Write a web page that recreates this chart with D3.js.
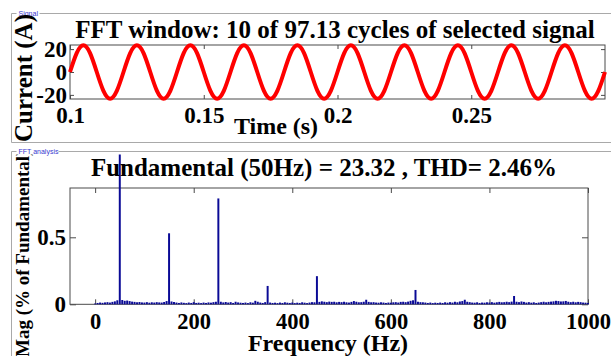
<!DOCTYPE html>
<html>
<head>
<meta charset="utf-8">
<script src="https://cdn.jsdelivr.net/npm/d3@7/dist/d3.min.js"></script>
<style>
  html, body { margin: 0; padding: 0; background: #fff; }
  svg { display: block; }
</style>
</head>
<body>
<svg id="chart" width="611" height="356"></svg>
<script>
// ---------------- DATA ----------------
const signalTitle = "FFT window: 10 of 97.13 cycles of selected signal";
const fftTitle = "Fundamental (50Hz) = 23.32 , THD= 2.46%";

// Time samples (s) every 1/8 cycle, and current (A)
const signalTime = [
  0.1000,0.1025,0.1050,0.1075,0.1100,0.1125,0.1150,0.1175,
  0.1200,0.1225,0.1250,0.1275,0.1300,0.1325,0.1350,0.1375,
  0.1400,0.1425,0.1450,0.1475,0.1500,0.1525,0.1550,0.1575,
  0.1600,0.1625,0.1650,0.1675,0.1700,0.1725,0.1750,0.1775,
  0.1800,0.1825,0.1850,0.1875,0.1900,0.1925,0.1950,0.1975,
  0.2000,0.2025,0.2050,0.2075,0.2100,0.2125,0.2150,0.2175,
  0.2200,0.2225,0.2250,0.2275,0.2300,0.2325,0.2350,0.2375,
  0.2400,0.2425,0.2450,0.2475,0.2500,0.2525,0.2550,0.2575,
  0.2600,0.2625,0.2650,0.2675,0.2700,0.2725,0.2750,0.2775,
  0.2800,0.2825,0.2850,0.2875,0.2900,0.2925,0.2950,0.2975,
  0.3000
];
const signalCurrent = [
  0,16.5,23.3,16.5,0,-16.5,-23.3,-16.5,
  0,16.5,23.3,16.5,0,-16.5,-23.3,-16.5,
  0,16.5,23.3,16.5,0,-16.5,-23.3,-16.5,
  0,16.5,23.3,16.5,0,-16.5,-23.3,-16.5,
  0,16.5,23.3,16.5,0,-16.5,-23.3,-16.5,
  0,16.5,23.3,16.5,0,-16.5,-23.3,-16.5,
  0,16.5,23.3,16.5,0,-16.5,-23.3,-16.5,
  0,16.5,23.3,16.5,0,-16.5,-23.3,-16.5,
  0,16.5,23.3,16.5,0,-16.5,-23.3,-16.5,
  0,16.5,23.3,16.5,0,-16.5,-23.3,-16.5,
  0
];

// Spectrum: one bin every 5 Hz from 0 to 1000 Hz (magnitude, % of fundamental scale)
const fftStepHz = 5;
const fftMag = [
  0.006,0.010,0.013,0.011,0.014,0.016,0.013,0.018,0.022,0.030,100, 0.032,0.026,0.028,0.024,0.020,0.018,0.015,0.017,0.014,
  0.013,0.016,0.012,0.015,0.013,0.016,0.014,0.013,0.017,0.024,0.53, 0.021,0.017,0.013,0.010,0.014,0.011,0.009,0.013,0.010,
  0.016,0.010,0.012,0.009,0.013,0.010,0.014,0.012,0.016,0.019,0.79, 0.019,0.014,0.017,0.013,0.016,0.010,0.019,0.014,0.012,
  0.010,0.013,0.009,0.015,0.012,0.026,0.019,0.013,0.010,0.016,0.137,0.013,0.010,0.012,0.009,0.013,0.010,0.015,0.012,0.010,
  0.013,0.009,0.012,0.010,0.015,0.012,0.009,0.013,0.016,0.015,0.21, 0.018,0.022,0.019,0.016,0.020,0.018,0.019,0.015,0.018,
  0.016,0.019,0.015,0.013,0.018,0.024,0.019,0.015,0.016,0.019,0.034,0.018,0.015,0.016,0.013,0.012,0.015,0.013,0.010,0.013,
  0.012,0.015,0.016,0.013,0.018,0.019,0.016,0.020,0.026,0.030,0.107,0.019,0.016,0.015,0.013,0.010,0.013,0.009,0.012,0.010,
  0.013,0.010,0.015,0.012,0.016,0.013,0.019,0.015,0.021,0.024,0.034,0.019,0.016,0.013,0.012,0.015,0.010,0.013,0.012,0.015,
  0.013,0.016,0.012,0.015,0.018,0.015,0.016,0.019,0.016,0.020,0.062,0.019,0.016,0.021,0.018,0.013,0.016,0.012,0.015,0.010,
  0.013,0.016,0.019,0.015,0.018,0.020,0.022,0.026,0.024,0.021,0.022,0.025,0.019,0.016,0.019,0.015,0.018,0.016,0.013,0.012,
  0.010
];

const timeTicks = [0.1, 0.15, 0.2, 0.25];
const currentTicks = [-20, 0, 20];
const freqTicks = [0, 200, 400, 600, 800, 1000];
const magTicks = [0, 0.5];

// ---------------- DRAW ----------------
const svg = d3.select("#chart");
const serif = "'Liberation Serif','Times New Roman',serif";
const boxColor = "#4a4a4a";
const frameColor = "#a9a9a9";
const barColor = "#0a0a96";

svg.append("rect").attr("width", 611).attr("height", 356).attr("fill", "#fff");

// panel frames
function panelFrame(top, bottom, label, labelW) {
  const p = d3.path();
  p.moveTo(611, top); p.lineTo(11.5, top); p.lineTo(11.5, bottom);
  if (bottom < 356) p.lineTo(611, bottom);
  svg.append("path").attr("d", p.toString()).attr("fill", "none")
    .attr("stroke", frameColor).attr("stroke-width", 1);
  svg.append("rect").attr("x", 16.5).attr("y", top - 4).attr("width", labelW).attr("height", 8).attr("fill", "#fff");
  svg.append("text").attr("x", 18.5).attr("y", top + 2.5).text(label)
    .attr("font-family", "'Liberation Sans',Arial,sans-serif").attr("font-size", 7)
    .attr("fill", "#3838d0");
}
panelFrame(13.5, 142.5, "Signal", 23);
panelFrame(151.5, 400, "FFT analysis", 42);

// ---------- top: signal ----------
const x1 = d3.scaleLinear().domain([0.1, 0.3]).range([70, 605]);
const y1 = d3.scaleLinear().domain([-23.6, 23.6]).range([99, 45]);

function styleAxis(g, fontSize) {
  g.select(".domain").remove();
  g.selectAll(".tick line").attr("stroke", boxColor);
  g.selectAll(".tick text").attr("font-family", serif).attr("font-weight", "bold")
    .attr("font-size", fontSize).attr("fill", "#000");
}

const gx1 = svg.append("g").attr("transform", "translate(0,99)")
  .call(d3.axisBottom(x1).tickValues(timeTicks).tickSize(-4).tickPadding(8)
    .tickFormat(d => String(d)));
styleAxis(gx1, 23);
const gx1t = svg.append("g").attr("transform", "translate(0,45)")
  .call(d3.axisTop(x1).tickValues(timeTicks).tickSize(-4).tickFormat(""));
styleAxis(gx1t, 23);

const gy1 = svg.append("g").attr("transform", "translate(70,0)")
  .call(d3.axisLeft(y1).tickValues(currentTicks).tickSize(-4).tickPadding(3)
    .tickFormat(d => d < 0 ? "-" + Math.abs(d) : String(d)));
styleAxis(gy1, 23);
const gy1r = svg.append("g").attr("transform", "translate(605,0)")
  .call(d3.axisRight(y1).tickValues(currentTicks).tickSize(-4).tickFormat(""));
styleAxis(gy1r, 23);

svg.append("rect").attr("x", 70).attr("y", 45).attr("width", 535).attr("height", 54)
  .attr("fill", "none").attr("stroke", boxColor).attr("stroke-width", 1);

const sig = signalTime.map((t, i) => [t, signalCurrent[i]]);
svg.append("path").datum(sig)
  .attr("d", d3.line().x(d => x1(d[0])).y(d => y1(d[1])).curve(d3.curveNatural))
  .attr("fill", "none").attr("stroke", "#ff0000").attr("stroke-width", 4)
  .attr("stroke-linejoin", "round");

svg.append("text").attr("x", 335).attr("y", 37.5).attr("text-anchor", "middle")
  .attr("font-family", serif).attr("font-weight", "bold").attr("font-size", 25).text(signalTitle);
svg.append("text").attr("x", 276).attr("y", 134).attr("text-anchor", "middle")
  .attr("font-family", serif).attr("font-weight", "bold").attr("font-size", 24).text("Time (s)");
svg.append("text").attr("transform", "translate(31.5,78) rotate(-90)").attr("text-anchor", "middle")
  .attr("font-family", serif).attr("font-weight", "bold").attr("font-size", 25).text("Current (A)");

// ---------- bottom: FFT ----------
const x2 = d3.scaleLinear().domain([-51, 1000]).range([70, 588]);
const y2 = d3.scaleLinear().domain([0, 0.868]).range([304.3, 188]);

svg.append("defs").append("clipPath").attr("id", "fftclip")
  .append("rect").attr("x", 12).attr("y", 154.5).attr("width", 599).attr("height", 210);

const gx2 = svg.append("g").attr("transform", "translate(0,304.3)")
  .call(d3.axisBottom(x2).tickValues(freqTicks).tickSize(-5).tickPadding(9)
    .tickFormat(d => String(d)));
styleAxis(gx2, 22.5);
const gx2t = svg.append("g").attr("transform", "translate(0,188)")
  .call(d3.axisTop(x2).tickValues(freqTicks).tickSize(-5).tickFormat(""));
styleAxis(gx2t, 23);
const gy2 = svg.append("g").attr("transform", "translate(70,0)")
  .call(d3.axisLeft(y2).tickValues(magTicks).tickSize(-6).tickPadding(4)
    .tickFormat(d => String(d)));
styleAxis(gy2, 23);
const gy2r = svg.append("g").attr("transform", "translate(588,0)")
  .call(d3.axisRight(y2).tickValues(magTicks).tickSize(-6).tickFormat(""));
styleAxis(gy2r, 23);

svg.append("rect").attr("x", 70).attr("y", 188).attr("width", 518).attr("height", 116.3)
  .attr("fill", "none").attr("stroke", boxColor).attr("stroke-width", 1);

const bins = fftMag.map((m, i) => ({ f: i * fftStepHz, m }));
const bw = (x2(fftStepHz) - x2(0)) * 0.8;
svg.append("g").attr("clip-path", "url(#fftclip)").selectAll("rect").data(bins).join("rect")
  .attr("x", d => x2(d.f) - bw / 2)
  .attr("width", bw)
  .attr("y", d => y2(d.m))
  .attr("height", d => y2(0) - y2(d.m))
  .attr("fill", barColor);

svg.append("text").attr("x", 324).attr("y", 176).attr("text-anchor", "middle")
  .attr("font-family", serif).attr("font-weight", "bold").attr("font-size", 25).text(fftTitle);
svg.append("text").attr("x", 328).attr("y", 351).attr("text-anchor", "middle")
  .attr("font-family", serif).attr("font-weight", "bold").attr("font-size", 24).text("Frequency (Hz)");
svg.append("g").attr("clip-path", "url(#fftclip)")
  .append("text").attr("transform", "translate(29,357) rotate(-90)").attr("text-anchor", "start")
  .attr("font-family", serif).attr("font-weight", "bold").attr("font-size", 19)
  .text("Mag (% of Fundamental)");
</script>
</body>
</html>
